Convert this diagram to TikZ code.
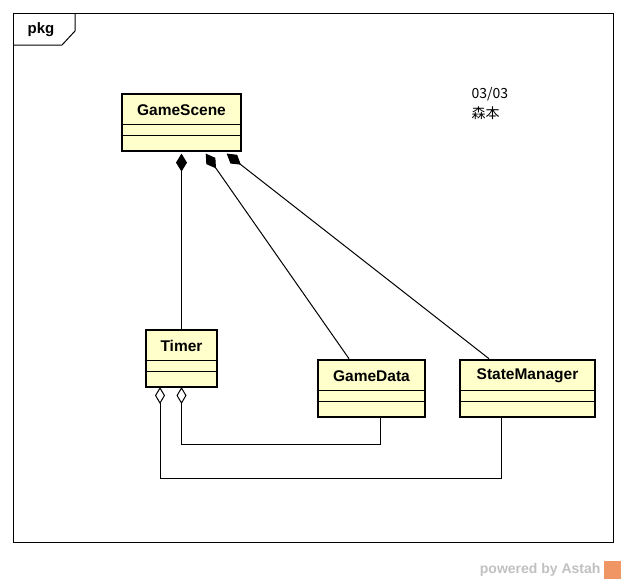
\documentclass[tikz,border=0pt]{standalone}
\usepackage{fontspec}
\setmainfont{Liberation Sans}
\newfontfamily\jpfont{Noto Sans CJK JP}
\usetikzlibrary{arrows.meta}
\usetikzlibrary{positioning}
\definecolor{classfill}{RGB}{255,255,204}
\definecolor{markgray}{RGB}{192,192,192}
\definecolor{astahorange}{RGB}{240,150,100}
\tikzset{classbox/.style={draw, line width=2.6pt, fill=classfill, inner sep=0pt},
  classname/.style={font=\fontsize{15.5}{17}\selectfont\bfseries},
  compos/.style={line width=1pt, {Diamond[length=18pt,width=11pt]}-},
  aggreg/.style={line width=1pt, {Diamond[open,length=17pt,width=10pt]}-}}
% compartment lines below the name
\newcommand{\classlines}[1]{%
  \draw[line width=1pt] ([yshift=-32]#1.north west) -- ([yshift=-32]#1.north east);
  \draw[line width=1pt] ([yshift=-43]#1.north west) -- ([yshift=-43]#1.north east);}

\begin{document}
\begin{tikzpicture}[x=1pt, y=-1pt]
  \useasboundingbox (0,0) rectangle (626,582);
  % frame
  \draw[line width=1pt] (13,13) rectangle (613,542);
  \coordinate (tabcorner) at (75,13);
  \draw[line width=1pt] (tabcorner) -- (75,31) -- (62,45) -- (13,45);
  \node[font=\fontsize{15}{17}\selectfont\bfseries] (pkg) at (41,30) {pkg};

  \node[classbox, minimum width=119pt, minimum height=57pt] (scene) at (181.5,122.5) {};
  \node[classname] (scenename) at ([yshift=-17]scene.north) {GameScene};
  \classlines{scene}
  \node[classbox, minimum width=71pt, minimum height=57pt] (timer) at (181.5,358.5) {};
  \node[classname] (timername) at ([yshift=-17]timer.north) {Timer};
  \classlines{timer}
  \node[classbox, minimum width=107pt, minimum height=57pt] (data) at (371.5,388.5) {};
  \node[classname] (dataname) at ([yshift=-17]data.north) {GameData};
  \classlines{data}
  \node[classbox, minimum width=135pt, minimum height=57pt] (state) at (527.5,388.5) {};
  \node[classname] (statename) at ([yshift=-17]state.north) {StateManager};
  \classlines{state}

  \draw[compos] ([yshift=-1.3]scene.south) -- (timer.north);
  \draw[compos] ([xshift=85,yshift=-1.3]scene.south west) -- ([xshift=-22.5]data.north);
  \draw[compos] ([xshift=106,yshift=-1.3]scene.south west) -- ([xshift=-38.5]state.north);

  \draw[aggreg] ([yshift=1.3]timer.south) -- ++(0,57.7) -| ([xshift=8.5]data.south);
  \draw[aggreg] ([xshift=-21.5,yshift=1.3]timer.south) -- ++(0,91.7) -| ([xshift=-26.5]state.south);

  \node[anchor=north west, align=left, font=\jpfont\fontsize{14}{20}\selectfont] (note) at (468,84) {03/03\\森本};

  \node[anchor=east, text=markgray, font=\fontsize{14}{16}\selectfont\bfseries] (powered) at (604,570) {powered by Astah};
  \fill[astahorange] (604,561) rectangle (621,579);
\end{tikzpicture}
\end{document}
